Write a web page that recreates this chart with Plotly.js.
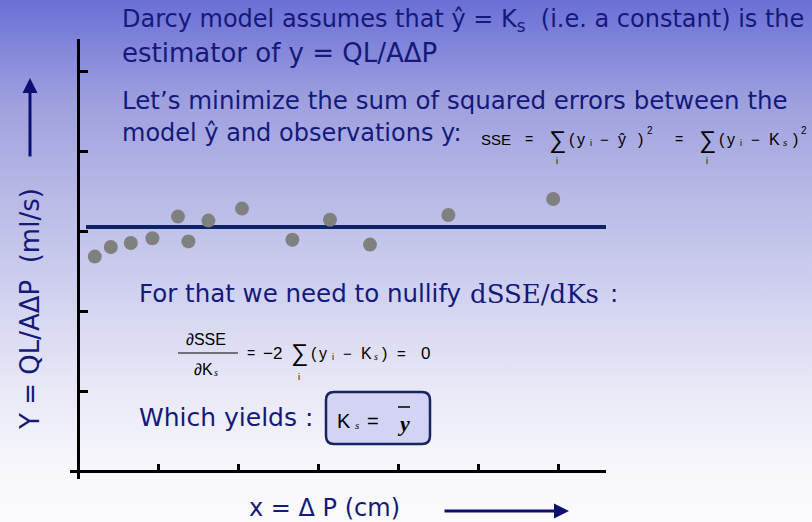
<!DOCTYPE html>
<html>
<head>
<meta charset="utf-8">
<script src="https://cdn.plot.ly/plotly-3.0.1.min.js"></script>
<style>
  html, body { margin: 0; padding: 0; }
  #chart {
    width: 812px; height: 522px;
    background: linear-gradient(to bottom, #6b6fd6 0%, #9fa1df 20%, #b9bae6 38%, #cfd0ef 55%, #e9e9f7 75%, #f7f7fc 90%, #fbfbfe 100%);
  }
</style>
</head>
<body>
<div id="chart"></div>
<script>
// Observations: pressure drop (x) and Q L / (A ΔP) (y), in tick units
const deltaP    = [0.21, 0.41, 0.66, 0.93, 1.25, 1.38, 1.63, 2.05, 2.68, 3.15, 3.65, 4.63, 5.94];
const flowRatio = [2.68, 2.80, 2.85, 2.91, 3.18, 2.87, 3.13, 3.28, 2.89, 3.14, 2.83, 3.20, 3.40];
// Constant Darcy estimate K_s and the extent of its line
const ksValue = 3.05;
const ksSpan  = [0.1, 6.6];
// Axis tick positions (no labels)
const xTickVals = [1, 2, 3, 4, 5, 6];
const yTickVals = [1, 2, 3, 4, 5];

const navy = '#14197a';
const mainFont = 'DejaVu Sans';
const mathFont = 'Liberation Sans';
const serifFont = 'Liberation Serif';

// plot area geometry (pixels)
const M = { l: 70, r: 206, t: 39, b: 43 };
const PW = 812 - M.l - M.r, PH = 522 - M.t - M.b;
const px = v => (v - M.l) / PW;
const py = v => (522 - M.b - v) / PH;
const nb = '\u00a0';

function note(text, x, y, size, opts) {
  return Object.assign({
    text: text, xref: 'paper', yref: 'paper', x: px(x), y: py(y),
    xanchor: 'left', yanchor: 'middle', showarrow: false,
    font: { family: mainFont, size: size, color: navy }
  }, opts || {});
}
// a centred piece of a formula
function sym(text, x, y, size, family, style) {
  return {
    text: text, xref: 'paper', yref: 'paper', x: px(x), y: py(y),
    xanchor: 'center', yanchor: 'middle', showarrow: false,
    font: { family: family || mathFont, size: size, color: '#000', style: style || 'normal' }
  };
}

const annotations = [
  note('Darcy model assumes that ŷ = K<sub>s</sub>' + nb + nb + '(i.e. a constant) is the', 120, 21, 24),
  note('estimator of y = QL/AΔP', 120, 53, 26),
  note('Let’s minimize the sum of squared errors between the', 120, 101, 24.5),
  note('model ŷ and observations y:', 120, 133, 24),

  // SSE = Σ (y_i − ŷ)² = Σ (y_i − Ks)²
  sym('SSE', 496, 139, 15),
  sym('=', 529, 139, 14),
  sym('∑', 557, 140, 24),
  sym('i', 557, 161, 9),
  sym('(', 572, 139, 16),
  sym('y', 581, 140, 16),
  sym('i', 591, 143, 9),
  sym('−', 604, 139, 15),
  sym('ŷ', 622, 139, 16),
  sym(')', 640, 139, 16),
  sym('2', 650, 130, 10),
  sym('=', 679, 139, 14),
  sym('∑', 707, 140, 24),
  sym('i', 707, 161, 9),
  sym('(', 722, 139, 16),
  sym('y', 731, 140, 16),
  sym('i', 741, 143, 9),
  sym('−', 755, 139, 15),
  sym('K', 774, 139, 16),
  sym('s', 785, 142, 11, serifFont, 'italic'),
  sym(')', 795, 139, 16),
  sym('2', 804, 130, 10),

  note('For that we need to nullify', 137, 293, 24.5),
  note('dSSE/dKs', 468, 294, 26, { font: { family: 'DejaVu Serif', size: 26, color: navy } }),
  note(':', 608, 293, 24.5),

  // ∂SSE/∂Ks = −2 Σ (y_i − Ks) = 0
  sym('∂SSE', 206, 339, 16),
  sym('∂K', 203, 370, 16),
  sym('s', 216, 372, 10, serifFont, 'italic'),
  sym('=', 251, 353, 14),
  sym('−2', 272, 353, 17),
  sym('∑', 299, 353, 24),
  sym('i', 299, 377, 9),
  sym('(', 314, 353, 16),
  sym('y', 323, 354, 16),
  sym('i', 333, 357, 9),
  sym('−', 347, 353, 15),
  sym('K', 366, 353, 16),
  sym('s', 376, 356, 10, serifFont, 'italic'),
  sym(')', 384, 353, 16),
  sym('=', 401, 353, 15),
  sym('0', 425, 353, 17),

  note('Which yields :', 137, 417, 25),
  // Ks = ȳ inside the box
  sym('K', 344, 421, 20),
  sym('s', 357, 425, 11, serifFont, 'italic'),
  sym('=', 373, 421, 20),
  sym('<b>y</b>', 403, 423, 22, serifFont, 'italic'),

  // axis titles with arrows
  note('Y = QL/AΔP' + nb + nb + '(ml/s)', 30, 309, 26, { xanchor: 'center', textangle: -90 }),
  note('x = Δ P (cm)', 324, 508, 24, { xanchor: 'center' }),
  { xref: 'paper', yref: 'paper', x: px(30), y: py(78), ax: 0, ay: 80, text: '',
    showarrow: true, arrowhead: 2, arrowsize: 1, arrowwidth: 3, arrowcolor: '#0d1070' },
  { xref: 'paper', yref: 'paper', x: px(569), y: py(511), ax: -126, ay: 0, text: '',
    showarrow: true, arrowhead: 2, arrowsize: 1, arrowwidth: 3, arrowcolor: '#0d1070' }
];

// rounded box around the result
function roundRect(x0, y0, x1, y1, r) {
  const X = v => px(v), Y = v => py(v);
  return 'M' + X(x0 + r) + ',' + Y(y0) +
    ' L' + X(x1 - r) + ',' + Y(y0) + ' Q' + X(x1) + ',' + Y(y0) + ' ' + X(x1) + ',' + Y(y0 + r) +
    ' L' + X(x1) + ',' + Y(y1 - r) + ' Q' + X(x1) + ',' + Y(y1) + ' ' + X(x1 - r) + ',' + Y(y1) +
    ' L' + X(x0 + r) + ',' + Y(y1) + ' Q' + X(x0) + ',' + Y(y1) + ' ' + X(x0) + ',' + Y(y1 - r) +
    ' L' + X(x0) + ',' + Y(y0 + r) + ' Q' + X(x0) + ',' + Y(y0) + ' ' + X(x0 + r) + ',' + Y(y0) + ' Z';
}

const shapes = [
  // fraction bar
  { type: 'line', xref: 'paper', yref: 'paper', x0: px(178), x1: px(238), y0: py(353), y1: py(353),
    line: { color: '#000', width: 1 } },
  { type: 'path', xref: 'paper', yref: 'paper', path: roundRect(326, 392, 430, 444, 8),
    fillcolor: '#d3d3f3', line: { color: '#1a2360', width: 2.5 }, layer: 'below' },
  // mean bar over y
  { type: 'line', xref: 'paper', yref: 'paper', x0: px(398), x1: px(410), y0: py(407), y1: py(407),
    line: { color: '#000', width: 1.5 } }
];

const traces = [
  { type: 'scatter', mode: 'lines', x: ksSpan, y: [ksValue, ksValue],
    line: { color: '#0a2468', width: 4 }, hoverinfo: 'skip' },
  { type: 'scatter', mode: 'markers', x: deltaP, y: flowRatio,
    marker: { size: 14, color: '#808080' }, cliponaxis: false }
];

const layout = {
  width: 812, height: 522,
  margin: M,
  paper_bgcolor: 'rgba(0,0,0,0)', plot_bgcolor: 'rgba(0,0,0,0)',
  showlegend: false,
  xaxis: {
    range: [-0.1, 6.6], anchor: 'free', position: 8 / PH,
    showline: true, linecolor: '#000', linewidth: 3,
    ticks: 'inside', ticklen: 6, tickwidth: 3, tickcolor: '#000',
    tickvals: xTickVals, showticklabels: false, showgrid: false, zeroline: false
  },
  yaxis: {
    range: [-0.1, 5.4], anchor: 'free', position: 8 / PW,
    showline: true, linecolor: '#000', linewidth: 3,
    ticks: 'inside', ticklen: 8, tickwidth: 3, tickcolor: '#000',
    tickvals: yTickVals, showticklabels: false, showgrid: false, zeroline: false
  },
  annotations: annotations,
  shapes: shapes
};

Plotly.newPlot('chart', traces, layout, { displayModeBar: false, staticPlot: true });
</script>
</body>
</html>
